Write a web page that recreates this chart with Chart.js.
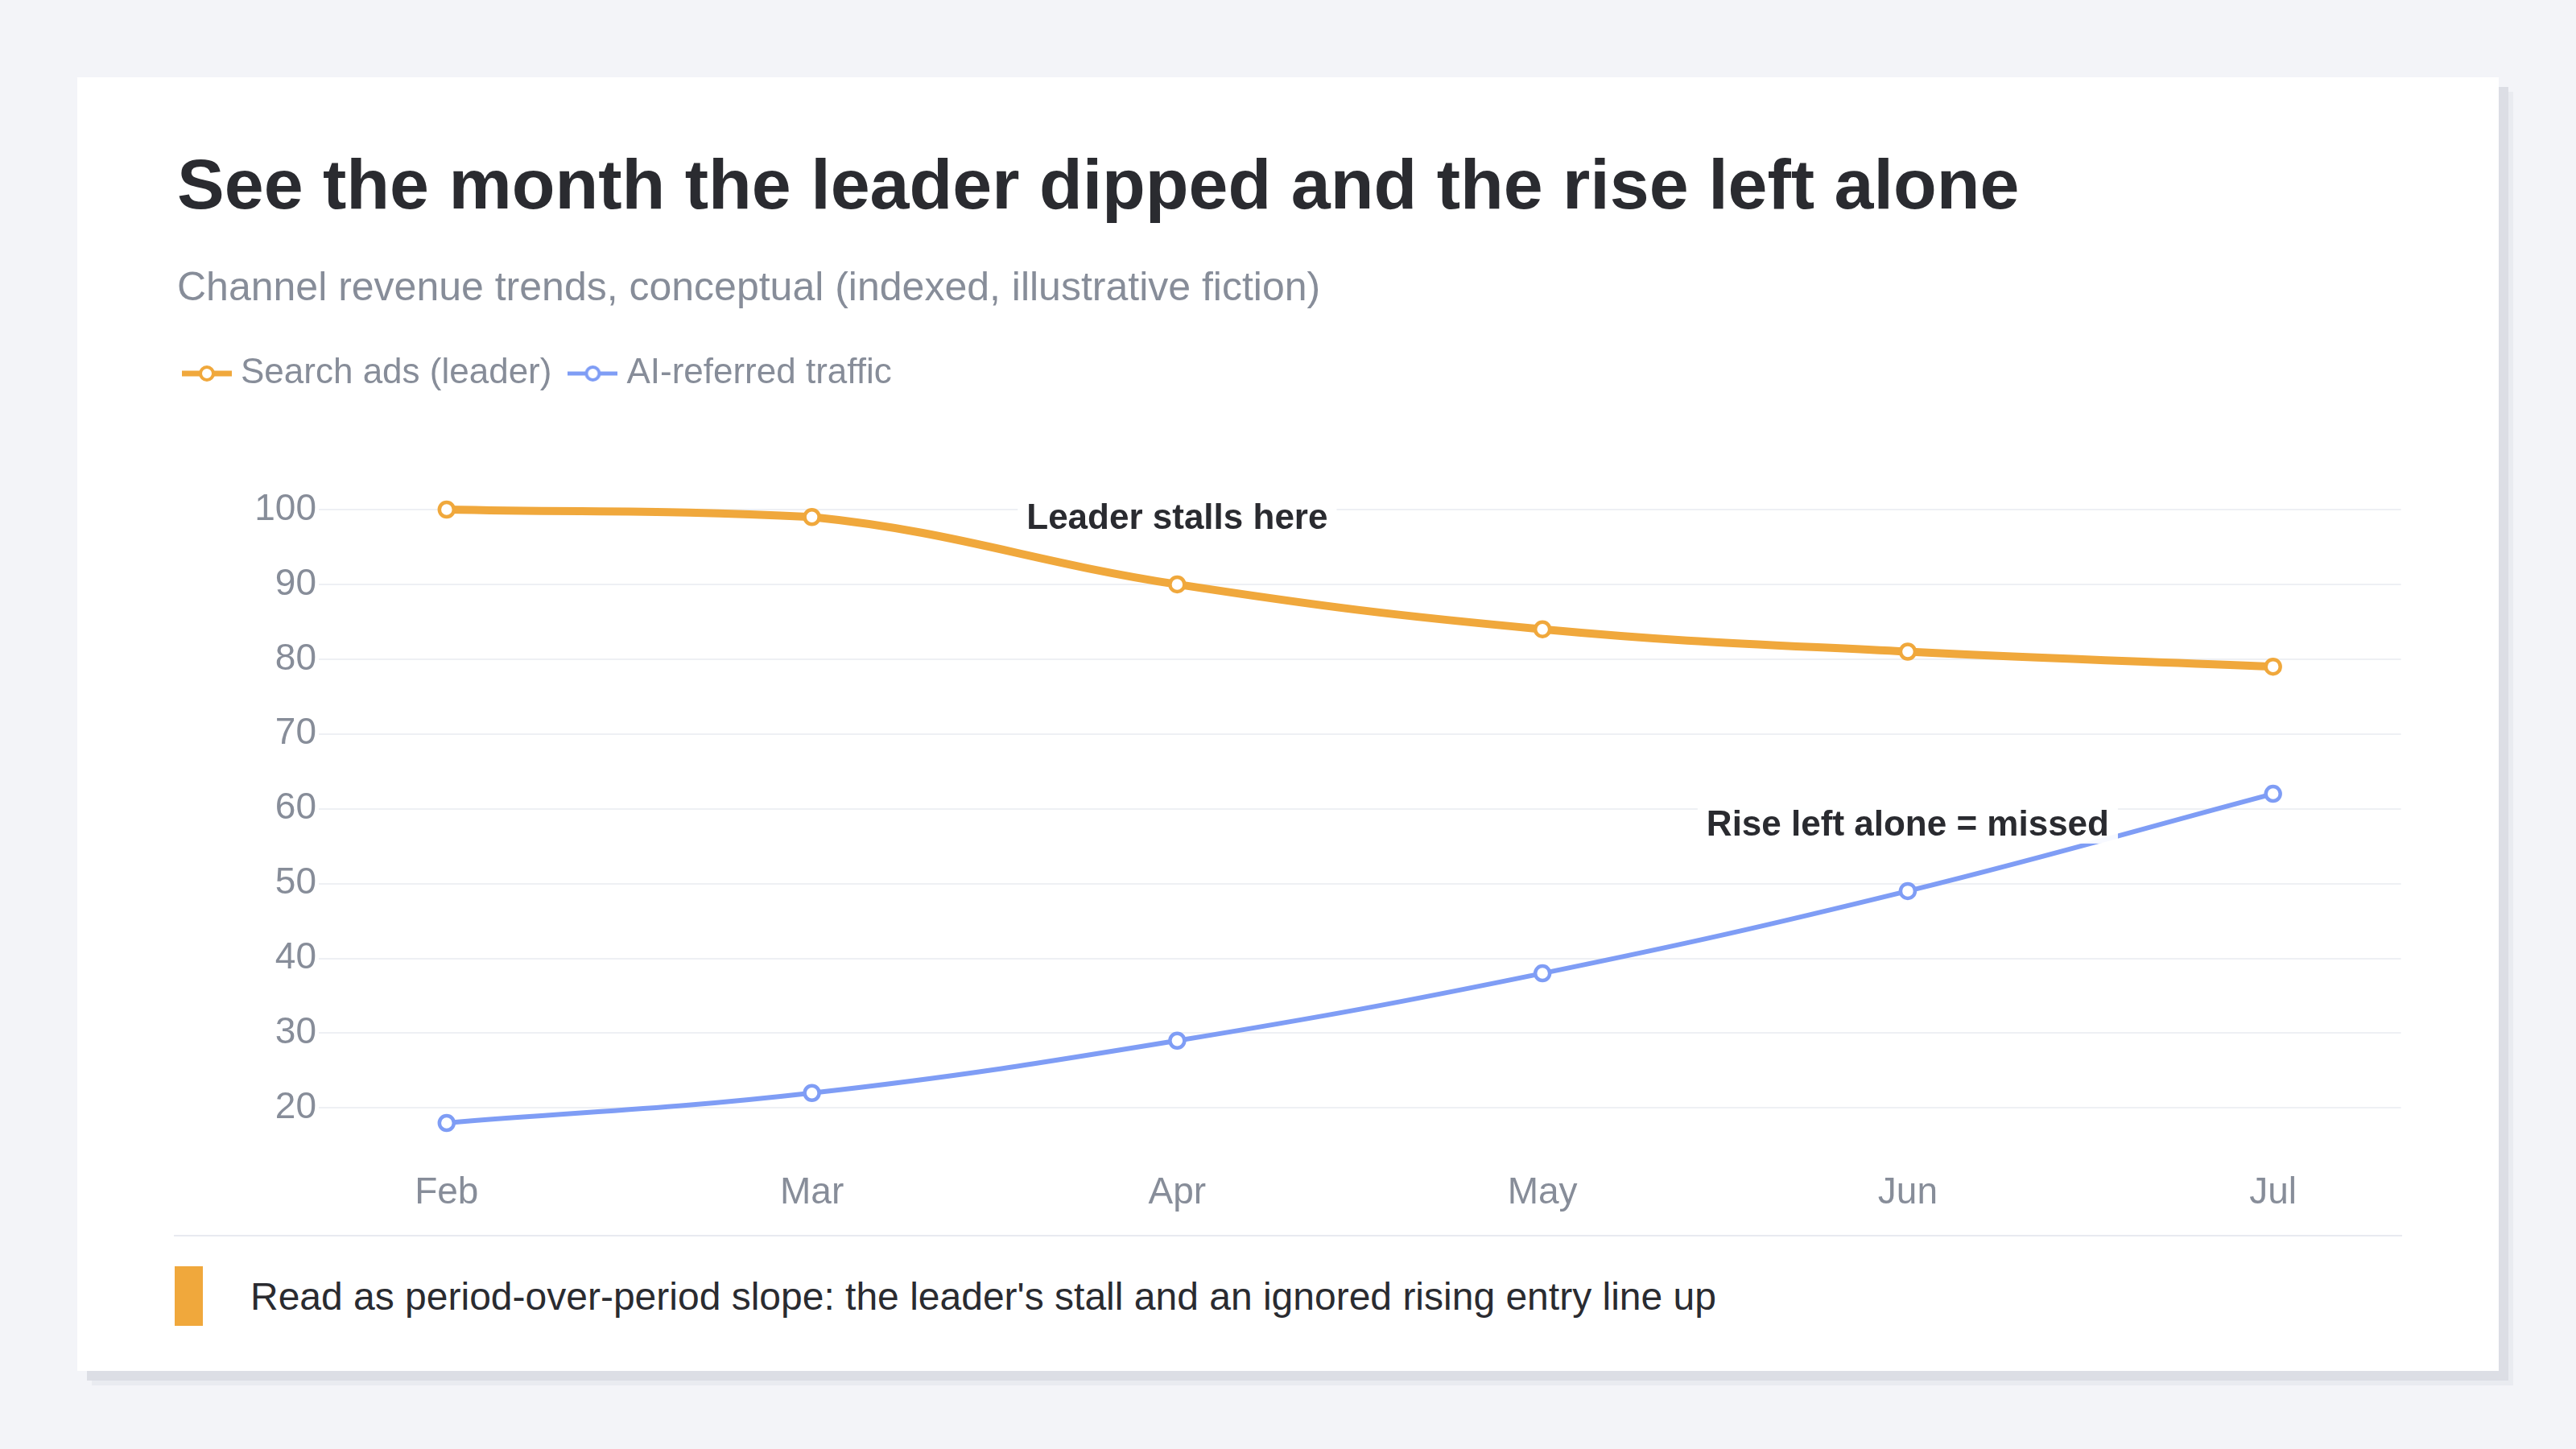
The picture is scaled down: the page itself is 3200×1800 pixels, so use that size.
<!DOCTYPE html>
<html>
<head>
<meta charset="utf-8">
<script src="https://cdn.jsdelivr.net/npm/chart.js@4.4.1/dist/chart.umd.min.js"></script>
<style>
  html, body { margin: 0; padding: 0; }
  body {
    width: 3200px; height: 1800px; position: relative; overflow: hidden;
    background: #f3f4f8;
    font-family: 'Liberation Sans', Arial, Helvetica, sans-serif;
  }
  .card {
    position: absolute; left: 96px; top: 96px; width: 3008px; height: 1607px;
    background: #fff;
    box-shadow: 12px 12px 0 #dcdee5, 18px 18px 0 #e9ebf0;
  }
  .title {
    position: absolute; left: 220px; top: 185px; margin: 0;
    font-size: 88px; font-weight: 700; line-height: 1; color: #2a2b30; white-space: nowrap;
  }
  .subtitle {
    position: absolute; left: 220px; top: 331px; margin: 0;
    font-size: 50px; line-height: 1; color: #878d99; white-space: nowrap;
  }
  .chart-box { position: absolute; left: 206px; top: 411px; width: 2790px; height: 1141px; }
  .rule { position: absolute; left: 216px; top: 1534px; width: 2768px; height: 2px; background: #e8eaf0; }
  .note-bar { position: absolute; left: 217px; top: 1573px; width: 35px; height: 74px; background: #f0a83c; }
  .note {
    position: absolute; left: 311px; top: 1587px; margin: 0;
    font-size: 48px; line-height: 1; color: #2a2b30; white-space: nowrap;
  }
</style>
</head>
<body>
<div class="card"></div>
<h1 class="title">See the month the leader dipped and the rise left alone</h1>
<p class="subtitle">Channel revenue trends, conceptual (indexed, illustrative fiction)</p>
<div class="chart-box"><canvas id="trendChart"></canvas></div>
<div class="rule"></div>
<div class="note-bar"></div>
<p class="note">Read as period-over-period slope: the leader's stall and an ignored rising entry line up</p>

<script>
const months = ['Feb', 'Mar', 'Apr', 'May', 'Jun', 'Jul'];
const searchAds = [100, 99, 90, 84, 81, 79];
const aiReferred = [18, 22, 29, 38, 49, 62];
const seriesNames = ['Search ads (leader)', 'AI-referred traffic'];

// callouts hang above a given point of a given series
const callouts = [
  { text: 'Leader stalls here', series: 0, index: 2 },
  { text: 'Rise left alone = missed', series: 1, index: 4 }
];

const ORANGE = '#f0a83c';
const BLUE = '#7f9df5';
const GREY = '#878d99';
const INK = '#2a2b30';

Chart.defaults.font.family = "'Liberation Sans', Arial, Helvetica, sans-serif";

function legendIcon(color, lineW) {
  const c = document.createElement('canvas');
  c.width = 62; c.height = 24;
  const g = c.getContext('2d');
  g.strokeStyle = color;
  g.lineWidth = lineW;
  g.beginPath(); g.moveTo(0, 12); g.lineTo(62, 12); g.stroke();
  g.beginPath(); g.arc(31, 12, 8, 0, Math.PI * 2);
  g.fillStyle = '#fff'; g.fill();
  g.lineWidth = 4; g.stroke();
  return c;
}
const icons = [legendIcon(ORANGE, 7), legendIcon(BLUE, 5)];

// push the plot down below the legend
const legendGap = {
  id: 'legendGap',
  beforeInit(chart) {
    const fit = chart.legend.fit;
    chart.legend.fit = function () {
      fit.call(this);
      this.height += 137;
    };
  }
};

const calloutPlugin = {
  id: 'callouts',
  afterDatasetsDraw(chart) {
    const ctx = chart.ctx;
    ctx.save();
    ctx.font = "bold 44px 'Liberation Sans', Arial, sans-serif";
    ctx.textAlign = 'center';
    ctx.textBaseline = 'alphabetic';
    callouts.forEach(c => {
      const pt = chart.getDatasetMeta(c.series).data[c.index];
      const base = pt.y - 69;
      const w = ctx.measureText(c.text).width;
      ctx.fillStyle = 'rgba(255,255,255,0.94)';
      ctx.fillRect(pt.x - w / 2 - 11, base - 44, w + 22, 54);
      ctx.fillStyle = INK;
      ctx.fillText(c.text, pt.x, base);
    });
    ctx.restore();
  }
};

function series(label, values, color, width) {
  return {
    label: label,
    data: values.map((y, i) => ({ x: i, y: y })),
    borderColor: color,
    backgroundColor: color,
    borderWidth: width,
    tension: 0.4,
    fill: false,
    clip: false,
    pointRadius: 9,
    pointBorderWidth: 4.5,
    pointBackgroundColor: '#fff',
    pointBorderColor: color
  };
}

new Chart(document.getElementById('trendChart'), {
  type: 'line',
  data: {
    datasets: [
      series(seriesNames[0], searchAds, ORANGE, 10),
      series(seriesNames[1], aiReferred, BLUE, 6)
    ]
  },
  options: {
    responsive: true,
    maintainAspectRatio: false,
    animation: false,
    events: [],
    layout: { padding: { bottom: 10 } },
    scales: {
      x: {
        type: 'linear',
        min: -0.35,
        max: 5.35,
        border: { display: false },
        grid: { display: false, drawTicks: false },
        ticks: {
          stepSize: 1,
          includeBounds: false,
          maxRotation: 0,
          padding: 32,
          color: GREY,
          font: { size: 46 },
          callback: v => months[v] ?? ''
        }
      },
      y: {
        min: 15,
        max: 100,
        border: { display: false },
        grid: { color: '#eef0f4', lineWidth: 2, drawTicks: false },
        ticks: {
          stepSize: 10,
          includeBounds: false,
          padding: 3,
          color: GREY,
          font: { size: 46 }
        },
        afterFit(scale) { scale.width = 190; }
      }
    },
    plugins: {
      tooltip: { enabled: false },
      legend: {
        position: 'top',
        align: 'start',
        labels: {
          usePointStyle: true,
          pointStyleWidth: 40,
          padding: 31,
          color: GREY,
          font: { size: 44 },
          generateLabels(chart) {
            const items = Chart.defaults.plugins.legend.labels.generateLabels(chart);
            items.forEach((it, i) => { it.pointStyle = icons[i]; });
            return items;
          }
        }
      }
    }
  },
  plugins: [legendGap, calloutPlugin]
});
</script>
</body>
</html>
